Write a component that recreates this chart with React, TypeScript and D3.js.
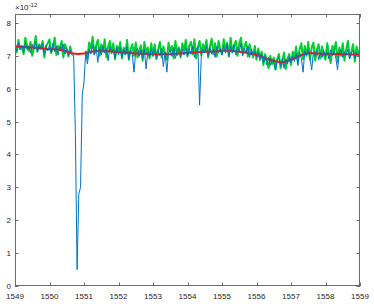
import React from "react";
import * as d3 from "d3";

// wavelength grid: 1549 .. 1559 in 0.05 steps (201 samples)
const wlStart = 1549;
const wlStep = 0.05;

// green trace (dip region removed)
const greenVals: (number | null)[] = [
  7.32, 7.10, 7.48, 7.20, 7.28, 7.05, 7.55, 7.30, 7.15, 7.42, 7.00, 7.25, 7.60, 7.12, 7.35, 7.22, 7.45, 6.95, 7.30, 7.38,
  7.50, 7.08, 7.25, 7.55, 7.02, 7.30, 7.18, 7.45, 6.95, 7.35, 7.20, 6.98, 7.28, 7.05, null, null, null, null, null, null,
  null, 7.15, 6.92, 7.40, 7.22, 7.58, 7.05, 7.30, 7.48, 7.00, 7.35, 7.12, 7.50, 6.95, 7.28, 7.45, 7.08, 7.38, 6.90, 7.30,
  7.15, 7.42, 6.92, 7.25, 7.05, 7.48, 6.88, 7.20, 7.35, 7.00, 7.40, 6.95, 7.15, 7.32, 6.85, 7.42, 7.10, 7.25, 6.92, 7.38,
  7.00, 7.35, 6.90, 7.18, 7.42, 6.95, 7.28, 7.05, 6.88, 7.40, 7.12, 7.30, 6.92, 7.45, 7.02, 7.25, 6.95, 7.38, 7.15, 7.48,
  6.98, 7.30, 7.42, 7.05, 7.50, 6.92, 7.25, 7.45, 7.02, 7.35, 7.15, 7.48, 6.95, 7.28, 7.52, 7.05, 7.38, 6.98, 7.45, 7.20,
  7.05, 7.50, 7.20, 7.40, 6.98, 7.55, 7.10, 7.32, 7.45, 7.00, 7.38, 7.55, 7.05, 7.28, 7.42, 6.98, 7.35, 7.15, 6.95, 7.30,
  6.88, 7.22, 6.95, 7.12, 6.72, 7.05, 6.85, 6.62, 7.00, 6.75, 6.95, 6.58, 6.90, 7.05, 6.62, 6.85, 7.10, 6.60, 6.92, 7.05,
  6.72, 7.12, 6.95, 7.28, 6.82, 7.20, 7.38, 6.90, 7.30, 7.00, 7.42, 6.88, 7.25, 7.40, 6.85, 7.18, 7.35, 6.92, 7.28, 7.05,
  6.88, 7.38, 7.05, 6.78, 7.30, 7.15, 7.42, 6.80, 7.25, 7.00, 7.38, 6.85, 7.20, 7.45, 6.95, 7.12, 7.35, 6.82, 7.28, 7.10,
  6.95,
];

// blue trace (raw, with the absorption dips)
const blueVals: number[] = [
  7.25, 7.15, 7.38, 7.20, 7.32, 7.10, 7.40, 7.18, 7.30, 7.08, 7.35, 7.20, 7.42, 7.12, 7.32, 7.22, 7.38, 7.05, 7.30, 7.15,
  7.32, 7.10, 7.38, 7.12, 7.30, 7.02, 7.28, 7.15, 7.35, 7.05, 7.22, 7.00, 7.18, 7.02, 7.02, 4.60, 0.50, 2.80, 3.00, 5.80,
  6.20, 7.12, 6.75, 7.22, 7.05, 7.32, 7.02, 7.28, 6.80, 7.25, 7.02, 7.30, 7.08, 7.22, 6.85, 7.28, 7.10, 7.20, 6.92, 7.25,
  7.02, 7.25, 6.95, 7.20, 7.02, 7.28, 6.90, 7.18, 7.05, 6.50, 7.15, 7.22, 6.98, 7.18, 6.92, 7.20, 6.60, 7.12, 6.95, 7.22,
  7.02, 7.20, 6.92, 7.18, 7.00, 7.22, 6.67, 7.12, 6.50, 7.08, 7.18, 6.98, 7.25, 6.92, 7.15, 7.22, 6.98, 7.20, 7.02, 7.25,
  6.98, 7.22, 7.05, 7.28, 6.95, 7.18, 7.28, 5.50, 7.00, 7.22, 7.08, 7.28, 6.98, 7.25, 7.05, 7.20, 6.95, 7.28, 7.08, 7.22,
  7.02, 7.30, 7.08, 7.35, 6.98, 7.28, 7.10, 7.32, 7.02, 7.25, 7.12, 7.38, 7.00, 7.22, 7.08, 7.30, 6.95, 7.20, 7.02, 7.15,
  6.95, 7.10, 6.85, 7.05, 6.78, 6.98, 6.72, 6.95, 6.70, 6.90, 6.78, 6.57, 6.88, 6.95, 6.68, 6.92, 6.62, 6.90, 6.75, 6.98,
  6.78, 7.00, 6.82, 7.08, 6.70, 7.10, 6.92, 6.50, 7.15, 7.02, 7.18, 6.92, 6.57, 7.12, 6.98, 7.18, 6.88, 7.10, 6.95, 7.15,
  6.98, 7.12, 6.90, 7.18, 7.00, 7.15, 6.92, 6.57, 7.10, 7.18, 6.95, 7.12, 7.02, 7.20, 6.90, 7.10, 7.15, 6.92, 7.12, 7.00,
  7.05,
];

// red smooth fit, sampled every 0.25
const redWl = [
  1549, 1549.25, 1549.5, 1549.75, 1550, 1550.25, 1550.5, 1550.75, 1551, 1551.25, 1551.5, 1551.75,
  1552, 1552.25, 1552.5, 1552.75, 1553, 1553.25, 1553.5, 1553.75, 1554, 1554.25, 1554.5, 1554.75,
  1555, 1555.25, 1555.5, 1555.75, 1556, 1556.25, 1556.5, 1556.75, 1557, 1557.25, 1557.5, 1557.75,
  1558, 1558.25, 1558.5, 1558.75, 1559,
];
const redVals = [
  7.28, 7.27, 7.25, 7.22, 7.2, 7.19, 7.13, 7.06, 7.07, 7.13, 7.15, 7.14,
  7.11, 7.09, 7.07, 7.06, 7.05, 7.05, 7.05, 7.07, 7.09, 7.11, 7.12, 7.13,
  7.15, 7.15, 7.12, 7.08, 7.03, 6.93, 6.85, 6.8, 6.88, 7.0, 7.08, 7.07,
  7.05, 7.05, 7.05, 7.04, 7.03,
];

const xTicks = [1549, 1550, 1551, 1552, 1553, 1554, 1555, 1556, 1557, 1558, 1559];
const yTicks = [0, 1, 2, 3, 4, 5, 6, 7, 8];

const W = 374;
const H = 306;
const left = 15;
const right = 360;
const top = 14;
const bottom = 286;

export default function App() {
  const x = d3.scaleLinear().domain([1549, 1559]).range([left, right]);
  const y = d3.scaleLinear().domain([0, 8.27]).range([bottom, top]);
  const wlAt = (i: number) => wlStart + i * wlStep;

  const greenLine = d3
    .line<number | null>()
    .defined((d) => d !== null)
    .x((_, i) => x(wlAt(i)))
    .y((d) => y(d as number));
  const blueLine = d3
    .line<number>()
    .x((_, i) => x(wlAt(i)))
    .y((d) => y(d));
  const redLine = d3
    .line<number>()
    .x((_, i) => x(redWl[i]))
    .y((d) => y(d))
    .curve(d3.curveCatmullRom);

  const font = "Liberation Sans, Arial, sans-serif";
  const axisColor = "#6b6b6b";
  const tl = 3.5;

  return (
    <svg
      width={W}
      height={H}
      style={{ position: "absolute", left: 0, top: 0, background: "#fff" }}
      fontFamily={font}
    >
      <rect x={0} y={0} width={W} height={H} fill="#fff" />
      <defs>
        <clipPath id="plot">
          <rect x={left} y={top} width={right - left} height={bottom - top} />
        </clipPath>
      </defs>
      <g clipPath="url(#plot)">
        <path d={greenLine(greenVals) || ""} fill="none" stroke="#00cc33" strokeWidth={2} strokeLinejoin="round" />
        <path d={redLine(redVals) || ""} fill="none" stroke="#ff1010" strokeWidth={2} />
        <path d={blueLine(blueVals) || ""} fill="none" stroke="#0072bd" strokeWidth={1} strokeLinejoin="round" />
      </g>
      {/* box */}
      <rect
        x={left + 0.5}
        y={top + 0.5}
        width={right - left - 1}
        height={bottom - top - 1}
        fill="none"
        stroke={axisColor}
        strokeWidth={1}
      />
      {xTicks.map((t) => {
        const px = Math.round(x(t)) + 0.5;
        return (
          <g key={"x" + t}>
            <line x1={px} x2={px} y1={bottom} y2={bottom - tl} stroke={axisColor} />
            <line x1={px} x2={px} y1={top} y2={top + tl} stroke={axisColor} />
            <text x={x(t)} y={299} fontSize={8} textAnchor="middle" fill="#262626">
              {t}
            </text>
          </g>
        );
      })}
      {yTicks.map((t) => {
        const py = Math.round(y(t)) + 0.5;
        return (
          <g key={"y" + t}>
            <line x1={left} x2={left + tl} y1={py} y2={py} stroke={axisColor} />
            <line x1={right} x2={right - tl} y1={py} y2={py} stroke={axisColor} />
            <text x={11} y={y(t) + 3} fontSize={8} textAnchor="end" fill="#262626">
              {t}
            </text>
          </g>
        );
      })}
      <text x={15} y={10} fontSize={8} fill="#262626">
        ×10
        <tspan dy={-3} fontSize={6}>
          -12
        </tspan>
      </text>
    </svg>
  );
}
